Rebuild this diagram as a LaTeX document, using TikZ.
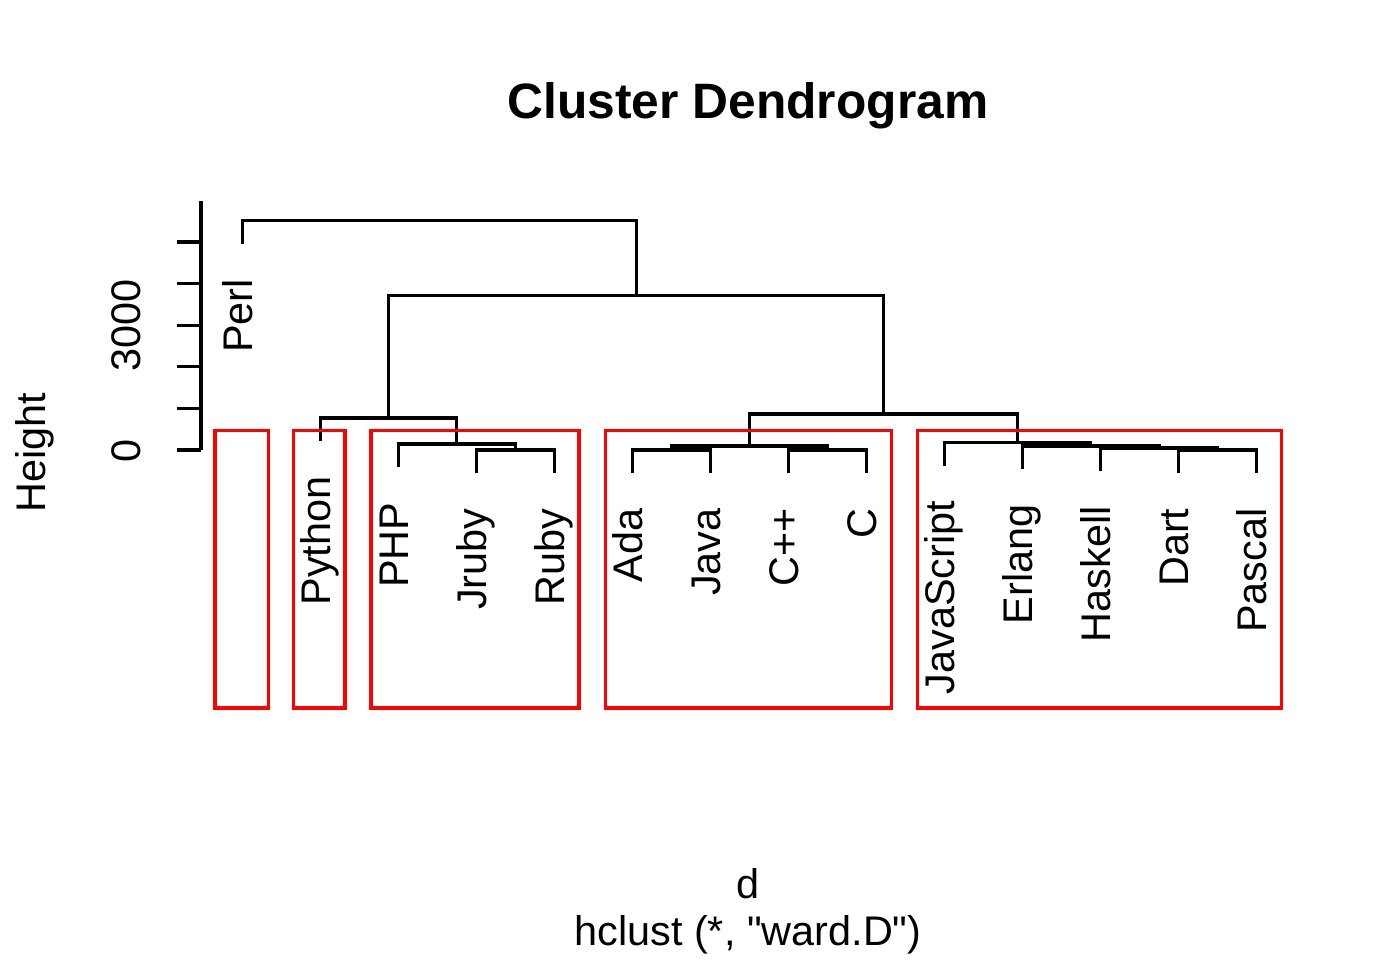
\documentclass[tikz,border=0pt]{standalone}
\usepackage{fontspec}
\setmainfont{Liberation Sans}[Ligatures=TeXOff]
\begin{document}
\begin{tikzpicture}[x=1pt,y=-1pt,
  tree/.style={line width=3.1pt, black},
  rbox/.style={line width=3.1pt, draw={rgb,255:red,255;green,0;blue,0}},
  leaflab/.style={rotate=90, anchor=base east, inner sep=0pt, font=\fontsize{41.4}{48}\selectfont},
  txt/.style={inner sep=0pt, font=\fontsize{41.4}{48}\selectfont}]
\useasboundingbox[fill=white] (0,0) rectangle (1400,960);

% title and labels
\node[inner sep=0pt, anchor=base, font=\bfseries\fontsize{49.7}{58}\selectfont] (title) at (748,118.5) {Cluster Dendrogram};
\node[txt, anchor=base] (xlab) at (748,898) {d};
\node[txt, anchor=base] (sub) at (748,945) {hclust (*, "ward.D")};
\node[txt, rotate=90, anchor=base] (ylab) at (45,453) {Height};

% axis
\coordinate (ax0) at (201,450);
\coordinate (ax1) at (201,201);
\draw[tree] (ax0) -- (ax1);
\foreach \k in {0,...,5} {
  \draw[tree] (176.7,450-41.6*\k) -- (201,450-41.6*\k);
}
\node[txt, rotate=90, anchor=base] (t0) at (140,451) {0};
\node[txt, rotate=90, anchor=base] (t3) at (140,325.2) {3000};

% leaf bottoms
\coordinate (Perl) at (242.3,244.0);
\coordinate (Python) at (320.33,441.3);
\coordinate (PHP) at (398.36,467.3);
\coordinate (Jruby) at (476.39,473.3);
\coordinate (Ruby) at (554.42,473.3);
\coordinate (Ada) at (632.45,473.3);
\coordinate (Java) at (710.48,473.3);
\coordinate (Cpp) at (788.51,473.3);
\coordinate (C) at (866.54,473.3);
\coordinate (JS) at (944.57,465.6);
\coordinate (Erlang) at (1022.6,469.3);
\coordinate (Haskell) at (1100.63,471.3);
\coordinate (Dart) at (1178.66,473.3);
\coordinate (Pascal) at (1256.69,473.3);

% merges
\coordinate (mJR) at (515.4,450);
\coordinate (mPHP) at (456.9,444);
\coordinate (mPy) at (388.6,418);
\coordinate (mAJ) at (671.5,450);
\coordinate (mCC) at (827.5,450);
\coordinate (mACC) at (749.5,446);
\coordinate (mDP) at (1217.7,450);
\coordinate (mH) at (1159.2,448);
\coordinate (mE) at (1090.9,446);
\coordinate (mJS) at (1017.7,442.3);
\coordinate (mR) at (883.6,414);
\coordinate (mMain) at (636.1,295.3);
\coordinate (mTop) at (439.2,220.7);

\draw[tree] (Jruby) |- (mJR) -| (Ruby);
\draw[tree] (PHP) |- (mPHP) -| (mJR);
\draw[tree] (Python) |- (mPy) -| (mPHP);
\draw[tree] (Ada) |- (mAJ) -| (Java);
\draw[tree] (Cpp) |- (mCC) -| (C);
\draw[tree] (mAJ) |- (mACC) -| (mCC);
\draw[tree] (Dart) |- (mDP) -| (Pascal);
\draw[tree] (Haskell) |- (mH) -| (mDP);
\draw[tree] (Erlang) |- (mE) -| (mH);
\draw[tree] (JS) |- (mJS) -| (mE);
\draw[tree] (mACC) |- (mR) -| (mJS);
\draw[tree] (mPy) |- (mMain) -| (mR);
\draw[tree] (Perl) |- (mTop) -| (mMain);

% leaf labels
\foreach \n/\t in {Perl/Perl,Python/Python,PHP/PHP,Jruby/Jruby,Ruby/Ruby,Ada/Ada,Java/Java,Cpp/C++,C/C,JS/JavaScript,Erlang/Erlang,Haskell/Haskell,Dart/Dart,Pascal/Pascal} {
  \node[leaflab] (lab\n) at ([shift={(10,35)}]\n) {\t};
}

% red boxes
\draw[rbox] (215,430.5) rectangle (268.3,708);
\draw[rbox] (293.3,430.5) rectangle (345,708);
\draw[rbox] (371,430.5) rectangle (579,708);
\draw[rbox] (605.7,430.5) rectangle (891.7,708);
\draw[rbox] (917.3,430.5) rectangle (1281.7,708);
\end{tikzpicture}
\end{document}
